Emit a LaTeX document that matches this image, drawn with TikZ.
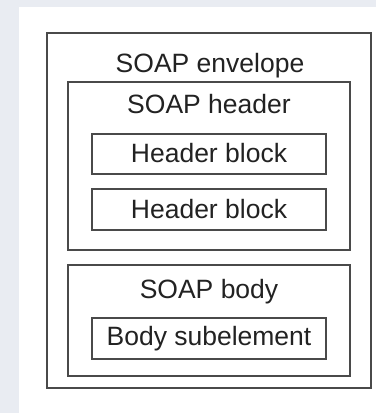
\documentclass[tikz,border=0pt]{standalone}
\usepackage{fontspec}
\setmainfont{Liberation Sans}
\definecolor{bgc}{HTML}{E9ECF2}
\definecolor{linec}{HTML}{4A4A4A}
\definecolor{txtc}{HTML}{222222}
\begin{document}
\begin{tikzpicture}[x=1pt,y=-1pt,
  box/.style={draw=linec,line width=1.6pt,fill=white,inner sep=0pt,outer sep=0pt},
  lbl/.style={anchor=base,inner sep=0pt,text=txtc,font=\fontsize{26.5}{30}\selectfont}]
\fill[bgc] (0,0) rectangle (376,413);
\fill[white] (19,7) rectangle (376,413);
\useasboundingbox (0,0) rectangle (376,413);
\node[box,minimum width=324pt,minimum height=355pt] (env) at (209,210.5) {};
\node[box,minimum width=282pt,minimum height=168pt] (hdr) at (209,166) {};
\node[box,minimum width=234pt,minimum height=40pt] (hb1) at (209,154) {};
\node[box,minimum width=234pt,minimum height=41pt] (hb2) at (209,209.5) {};
\node[box,minimum width=282pt,minimum height=111pt] (body) at (209,320.5) {};
\node[box,minimum width=234pt,minimum height=41pt] (sub) at (209,338.5) {};
\node[lbl] (tenv) at (210,72) {SOAP envelope};
\node[lbl] (thdr) at (209,113) {SOAP header};
\node[lbl] (thb1) at (209,162) {Header block};
\node[lbl] (thb2) at (209,218) {Header block};
\node[lbl] (tbody) at (209,298) {SOAP body};
\node[lbl] (tsub) at (209,345) {Body subelement};
\end{tikzpicture}
\end{document}
